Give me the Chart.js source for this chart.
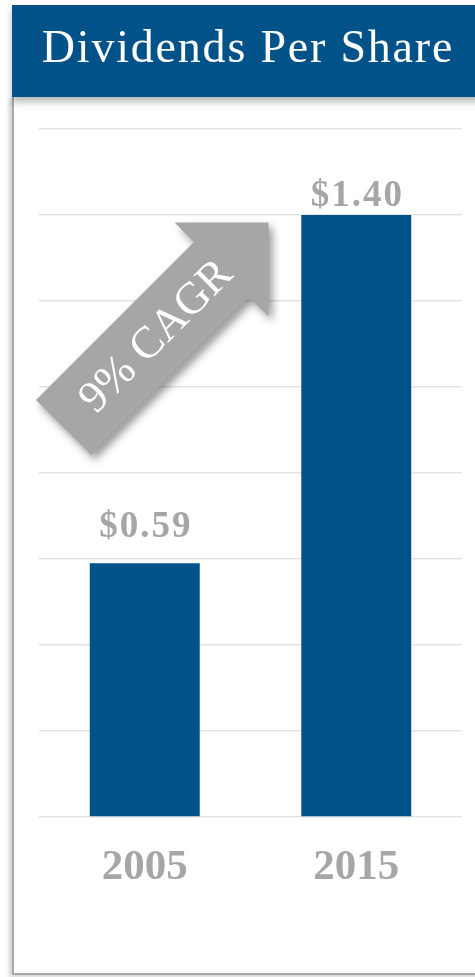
<!DOCTYPE html>
<html>
<head>
<meta charset="utf-8">
<script src="https://cdn.jsdelivr.net/npm/chart.js@4.4.1/dist/chart.umd.min.js"></script>
<style>
  html, body { margin:0; padding:0; background:#ffffff; }
  body { width:475px; height:977px; position:relative; overflow:hidden; }
  #frame {
    position:absolute; left:12px; top:97px; width:470px; height:876px;
    border-left:2px solid #a9a9a9; border-bottom:2px solid #a9a9a9;
    box-shadow:-3px 2px 4px rgba(0,0,0,0.18);
    background:#fff;
  }
  #header {
    position:absolute; left:12px; top:5px; width:472px; height:92px;
    background:#02528a; color:#ffffff;
    font-family:"Liberation Serif", serif; font-size:46px; letter-spacing:1.8px;
    line-height:83px; text-align:center; box-sizing:border-box;
    box-shadow:0 5px 7px rgba(0,0,0,0.28);
    z-index:3; white-space:nowrap;
  }
  #wrap { position:absolute; left:0; top:0; width:475px; height:977px; z-index:2; }
</style>
</head>
<body>
<div id="frame"></div>
<div id="header">Dividends Per Share</div>
<div id="wrap"><canvas id="c" width="475" height="977"></canvas></div>
<script>
const categories = ['2005', '2015'];
const dividends = [0.59, 1.40];
const valueLabels = ['$0.59', '$1.40'];
const yTickValues = [0, 0.2, 0.4, 0.6, 0.8, 1.0, 1.2, 1.4, 1.6];
const cagrLabel = '9% CAGR';

const GRAY = '#a6a6a6';
const BLUE = '#02528a';

const valueLabelPlugin = {
  id: 'valueLabels',
  afterDatasetsDraw(chart, args, opts) {
    const ctx = chart.ctx;
    const meta = chart.getDatasetMeta(0);
    ctx.save();
    ctx.font = 'bold 37px "Liberation Serif", serif';
    ctx.letterSpacing = '2px';
    ctx.fillStyle = GRAY;
    ctx.textAlign = 'center';
    ctx.textBaseline = 'alphabetic';
    meta.data.forEach((bar, i) => {
      ctx.fillText(valueLabels[i], bar.x + 1, bar.y - opts.offsets[i]);
    });
    ctx.restore();
  }
};

const arrowPlugin = {
  id: 'cagrArrow',
  beforeDatasetsDraw(chart, args, opts) {
    const ctx = chart.ctx;
    const a = chart.chartArea;
    ctx.save();
    ctx.translate(a.left + opts.tailX, a.top + opts.tailY);
    ctx.rotate(-Math.PI / 4);
    const L = opts.length, sw = opts.shaftHalf, hl = opts.headLen, hw = opts.headHalf;
    ctx.beginPath();
    ctx.moveTo(0, -sw);
    ctx.lineTo(L - hl, -sw);
    ctx.lineTo(L - hl, -hw);
    ctx.lineTo(L, 0);
    ctx.lineTo(L - hl, hw);
    ctx.lineTo(L - hl, sw);
    ctx.lineTo(0, sw);
    ctx.closePath();
    ctx.shadowColor = 'rgba(0,0,0,0.4)';
    ctx.shadowBlur = 9;
    ctx.shadowOffsetX = 4;
    ctx.shadowOffsetY = 5;
    ctx.fillStyle = GRAY;
    ctx.fill();
    ctx.shadowColor = 'transparent';
    ctx.font = '45px "Liberation Serif", serif';
    ctx.fillStyle = '#ffffff';
    ctx.textAlign = 'center';
    ctx.textBaseline = 'middle';
    ctx.fillText(cagrLabel, opts.textPos, 2);
    ctx.restore();
  }
};

new Chart(document.getElementById('c'), {
  type: 'bar',
  data: {
    labels: categories,
    datasets: [{
      data: dividends,
      backgroundColor: BLUE,
      borderWidth: 0,
      barPercentage: 0.52,
      categoryPercentage: 1.0
    }]
  },
  options: {
    responsive: false,
    animation: false,
    events: [],
    layout: { padding: { left: 39, right: 13, top: 129, bottom: 0 } },
    plugins: {
      legend: { display: false },
      tooltip: { enabled: false },
      title: { display: false },
      valueLabels: { offsets: [26, 9] },
      cagrArrow: { tailX: 24.5, tailY: 298.5, length: 290, shaftHalf: 39, headLen: 66.5, headHalf: 66.5, textPos: 130 }
    },
    scales: {
      x: {
        grid: { display: false, drawTicks: false },
        border: { display: false },
        ticks: {
          color: GRAY,
          font: { family: '"Liberation Serif", serif', size: 43, weight: 'bold' },
          padding: 25
        },
        afterFit(scale) { scale.height = 160; }
      },
      y: {
        min: 0, max: 1.6,
        afterBuildTicks(scale) { scale.ticks = yTickValues.map(v => ({ value: v })); },
        grid: { color: '#e3e3e3', lineWidth: 1.5, drawTicks: false },
        border: { display: false },
        ticks: { display: false },
        afterFit(scale) { scale.width = 0; }
      }
    }
  },
  plugins: [valueLabelPlugin, arrowPlugin]
});
</script>
</body>
</html>
